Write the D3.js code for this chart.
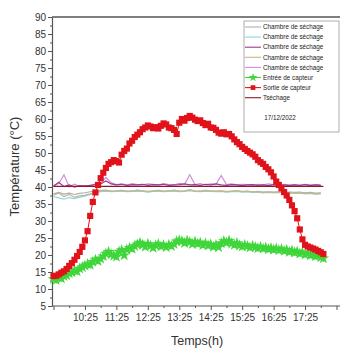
<!DOCTYPE html>
<html>
<head>
<meta charset="utf-8">
<script src="https://cdn.jsdelivr.net/npm/d3@7/dist/d3.min.js"></script>
<style>
  body { margin: 0; background: #fff; }
  svg { display: block; font-family: "Liberation Sans", Arial, sans-serif; }
</style>
</head>
<body>
<div id="chart"></div>
<script>
// time in minutes after 9:25
const stepFine = [0,5,10,15,20,25,30,35,40,45,50,55,60,65,70,75,80,85,90,95,100,105,110,115,120,125,130,135,140,145,150,155,160,165,170,175,180,185,190,195,200,205,210,215,220,225,230,235,240,245,250,255,260,265,270,275,280,285,290,295,300,305,310,315,320,325,330,335,340,345,350,355,360,365,370,375,380,385,390,395,400,405,410,415,420,425,430,435,440,445,450,455,460,465,470,475,480,485,490,495,500,505,510,515];
const stepCoarse = [0,10,20,30,40,50,60,70,80,90,100,110,120,130,140,150,160,170,180,190,200,210,220,230,240,250,260,270,280,290,300,310,320,330,340,350,360,370,380,390,400,410,420,430,440,450,460,470,480,490,500,510];

const sortieCapteur = [13.8,13.9,14.3,14.8,15.2,15.9,16.8,17.6,18.6,19.7,20.9,22.4,24.3,27.0,31.5,35.6,38.4,40.6,42.6,44.2,45.6,46.8,47.3,47.9,47.6,47.2,49.5,50.6,51.3,52.8,53.6,54.7,55.4,56.1,57.0,57.5,58.1,57.8,57.3,57.6,57.2,58.0,58.7,58.4,57.5,57.3,56.8,55.6,58.9,60.0,59.5,60.3,60.9,60.4,59.8,59.4,59.6,58.8,58.2,58.6,57.5,57.4,56.8,56.0,55.7,56.1,55.5,55.6,54.9,54.0,53.2,52.6,51.8,51.2,50.6,50.1,49.6,48.9,47.9,47.3,46.8,45.9,45.2,44.3,43.1,41.6,40.6,39.6,38.5,37.5,36.2,34.6,32.9,30.8,27.5,24.6,23.0,22.5,22.2,21.9,21.6,21.2,20.8,20.3];
const entreeCapteur = [12.9,12.6,13.4,13.1,13.8,14.0,14.6,14.9,15.4,15.2,16.0,16.4,16.9,17.3,17.1,18.0,18.6,18.2,18.9,19.6,20.4,20.9,20.2,19.8,19.5,21.0,21.4,19.9,21.6,22.1,21.8,22.6,23.1,23.6,23.0,22.4,23.3,22.7,22.1,22.8,23.2,22.5,22.9,22.3,23.0,22.6,23.2,24.0,24.3,24.1,23.5,24.2,23.8,23.2,23.9,23.3,23.6,22.9,23.4,22.8,23.1,22.4,22.9,22.3,23.5,24.1,23.6,24.2,23.4,23.0,23.5,22.8,22.5,23.0,22.6,22.2,22.7,22.3,22.0,22.4,21.9,22.2,21.7,22.0,21.6,21.9,21.4,21.7,21.2,21.5,20.9,21.3,20.7,21.0,20.4,20.8,20.1,20.5,19.9,20.2,19.6,19.9,19.3,19.0];

const chambre1 = [38.0,38.4,37.9,38.2,37.8,38.1,38.3,38.6,38.9,39.0,39.1,38.8,38.9,39.0,38.8,38.9,39.0,38.9,38.7,38.9,39.0,38.8,38.9,39.0,38.8,38.9,39.1,38.9,38.8,39.0,38.9,38.8,38.9,38.7,38.8,38.9,38.7,38.8,38.6,38.7,38.5,38.6,38.5,38.6,38.4,38.5,38.4,38.5,38.3,38.4,38.2,38.3];
const chambre2 = [37.2,36.8,36.4,36.9,36.6,37.0,37.3,37.8,38.3,38.6,38.8,38.6,38.7,38.8,38.6,38.7,38.8,38.7,38.5,38.7,38.8,38.6,38.7,38.8,38.6,38.7,38.9,38.7,38.6,38.8,38.7,38.6,38.7,38.5,38.6,38.7,38.5,38.6,38.4,38.5,38.3,38.4,38.3,38.4,38.2,38.3,38.1,38.2,38.0,38.1,37.9,38.0];
const chambre3 = [40.2,41.4,40.1,40.6,40.0,40.4,40.3,40.5,40.7,40.9,41.8,40.9,40.6,40.8,40.5,40.7,40.6,40.8,40.5,40.7,40.6,40.8,40.5,40.6,40.7,40.9,40.6,40.7,40.5,40.8,40.6,40.9,40.6,40.5,40.7,40.6,40.4,40.6,40.7,40.5,40.6,40.4,40.7,40.5,40.6,40.4,40.6,40.5,40.7,40.4,40.6,40.5];
const chambre4 = [37.6,38.2,37.2,37.8,37.0,37.4,37.6,38.0,38.5,38.8,39.0,38.7,38.8,39.0,38.7,38.8,39.1,38.8,38.6,38.8,39.0,38.7,38.8,39.1,38.7,38.8,39.2,38.8,38.7,39.0,38.8,38.7,38.8,38.6,38.7,38.9,38.6,38.7,38.5,38.6,38.4,38.5,38.4,38.5,38.3,38.4,38.2,38.3,38.1,38.2,38.0,38.1];
const chambre5 = [40.5,41.0,43.6,40.0,40.8,40.1,40.4,40.3,40.9,41.0,42.8,41.2,40.7,40.9,40.6,41.0,40.7,40.6,40.9,40.8,40.6,41.0,40.7,40.6,41.1,40.8,43.6,40.7,41.0,40.6,40.9,40.8,43.4,40.7,40.9,40.6,40.8,40.7,40.5,40.8,40.6,40.9,40.7,40.5,40.8,40.6,40.7,40.5,40.8,40.6,40.7,40.6];
const tSechageTimes = [0, 515];
const tSechage = [40.2, 40.2];

const yTicks = d3.range(5, 91, 5);
const xLabelTimes = ["10:25","11:25","12:25","13:25","14:25","15:25","16:25","17:25"];
const legendLabels = ["Chambre de séchage","Chambre de séchage","Chambre de séchage","Chambre de séchage","Chambre de séchage","Entrée de capteur","Sortie de capteur","Tséchage"];
const legendDate = "17/12/2022";

const width = 342, height = 348;
const start = 9 * 60 + 25;

const svg = d3.select("#chart").append("svg")
    .attr("width", width)
    .attr("height", height);

const x = d3.scaleLinear().domain([0, 540]).range([53.5, 336.5]);
const y = d3.scaleLinear().domain([5, 90]).range([306, 17]);

const fmt = m => {
    const t = start + m;
    return Math.floor(t / 60) + ":" + String(t % 60).padStart(2, "0");
};

// top border
svg.append("line")
    .attr("x1", 52).attr("x2", 340)
    .attr("y1", y(90)).attr("y2", y(90))
    .attr("stroke", "#555").attr("stroke-width", 1.4);

// y axis
const yAxis = svg.append("g")
    .attr("transform", `translate(52,0)`)
    .call(d3.axisLeft(y).tickValues(yTicks).tickSize(4).tickPadding(2).tickSizeOuter(0));
svg.append("g")
    .attr("transform", `translate(52,0)`)
    .call(d3.axisLeft(y).tickValues(d3.range(7.5, 90, 5)).tickSize(2).tickFormat("").tickSizeOuter(0))
    .select(".domain").remove();
yAxis.selectAll("text").attr("font-size", 10).attr("fill", "#333");

// x axis
const xAxis = svg.append("g")
    .attr("transform", `translate(0,306)`)
    .call(d3.axisBottom(x).tickValues(d3.range(0, 541, 60)).tickSize(4).tickPadding(4)
        .tickFormat(m => xLabelTimes.includes(fmt(m)) ? fmt(m) : "").tickSizeOuter(0));
svg.append("g")
    .attr("transform", `translate(0,306)`)
    .call(d3.axisBottom(x).tickValues(d3.range(30, 540, 60)).tickSize(2).tickFormat("").tickSizeOuter(0))
    .select(".domain").remove();
xAxis.select(".domain").attr("d", "M52,0H340");
xAxis.selectAll("text").attr("font-size", 10).attr("fill", "#333");

svg.selectAll(".domain").attr("stroke", "#555").attr("stroke-width", 1.2);
svg.selectAll(".tick line").attr("stroke", "#555");

// axis titles
svg.append("text")
    .attr("transform", `translate(19,${(y(5) + y(90)) / 2 + 5}) rotate(-90)`)
    .attr("text-anchor", "middle")
    .attr("font-size", 13)
    .attr("fill", "#333")
    .text("Température (°C)");
svg.append("text")
    .attr("x", 197).attr("y", 345)
    .attr("text-anchor", "middle")
    .attr("font-size", 12.5)
    .attr("fill", "#333")
    .text("Temps(h)");

const line = d3.line().x(d => x(d[0])).y(d => y(d[1]));
const zip = (t, v) => t.map((m, i) => [m, v[i]]);

const chambres = [
    { v: chambre1, c: "#a9afb6" },
    { v: chambre2, c: "#86d7df" },
    { v: chambre4, c: "#c9b68e" },
    { v: chambre5, c: "#cf8fdc" },
    { v: chambre3, c: "#9b3a93" }
];
chambres.forEach(s => {
    svg.append("path")
        .datum(zip(stepCoarse, s.v))
        .attr("d", line)
        .attr("fill", "none")
        .attr("stroke", s.c)
        .attr("stroke-width", 1.2);
});

svg.append("path")
    .datum(zip(tSechageTimes, tSechage))
    .attr("d", line)
    .attr("fill", "none")
    .attr("stroke", "#8b1a2a")
    .attr("stroke-width", 1.2);

// Entrée de capteur
const green = "#3fd63a";
svg.append("path")
    .datum(zip(stepFine, entreeCapteur))
    .attr("d", line)
    .attr("fill", "none")
    .attr("stroke", green)
    .attr("stroke-width", 1.2);
svg.append("g").selectAll("path")
    .data(zip(stepFine, entreeCapteur))
    .join("path")
    .attr("transform", d => `translate(${x(d[0])},${y(d[1])})`)
    .attr("d", d3.symbol(d3.symbolStar, 42))
    .attr("fill", green);

// Sortie de capteur
const red = "#e0121a";
svg.append("path")
    .datum(zip(stepFine, sortieCapteur))
    .attr("d", line)
    .attr("fill", "none")
    .attr("stroke", red)
    .attr("stroke-width", 1);
svg.append("g").selectAll("path")
    .data(zip(stepFine, sortieCapteur))
    .join("path")
    .attr("transform", d => `translate(${x(d[0])},${y(d[1])})`)
    .attr("d", d3.symbol(d3.symbolSquare, 38))
    .attr("fill", red);

// legend
const legend = svg.append("g");
legend.append("rect")
    .attr("x", 244).attr("y", 21)
    .attr("width", 95).attr("height", 111)
    .attr("fill", "#fff")
    .attr("stroke", "#999").attr("stroke-width", 0.8);

const legendColors = ["#a9afb6", "#86d7df", "#9b3a93", "#c9b68e", "#cf8fdc", green, red, "#8b1a2a"];
legendLabels.forEach((label, i) => {
    const ly = 27 + i * 10.1;
    legend.append("line")
        .attr("x1", 245).attr("x2", 261)
        .attr("y1", ly).attr("y2", ly)
        .attr("stroke", legendColors[i]).attr("stroke-width", 1.1);
    if (i === 5) {
        legend.append("path")
            .attr("transform", `translate(253,${ly})`)
            .attr("d", d3.symbol(d3.symbolStar, 24))
            .attr("fill", green);
    }
    if (i === 6) {
        legend.append("path")
            .attr("transform", `translate(253,${ly})`)
            .attr("d", d3.symbol(d3.symbolSquare, 22))
            .attr("fill", red);
    }
    legend.append("text")
        .attr("x", 263).attr("y", ly + 2.2)
        .attr("font-size", 6.3)
        .attr("fill", "#222")
        .text(label);
});
legend.append("text")
    .attr("x", 280).attr("y", 120)
    .attr("text-anchor", "middle")
    .attr("font-size", 6.3)
    .attr("fill", "#222")
    .text(legendDate);
</script>
</body>
</html>
